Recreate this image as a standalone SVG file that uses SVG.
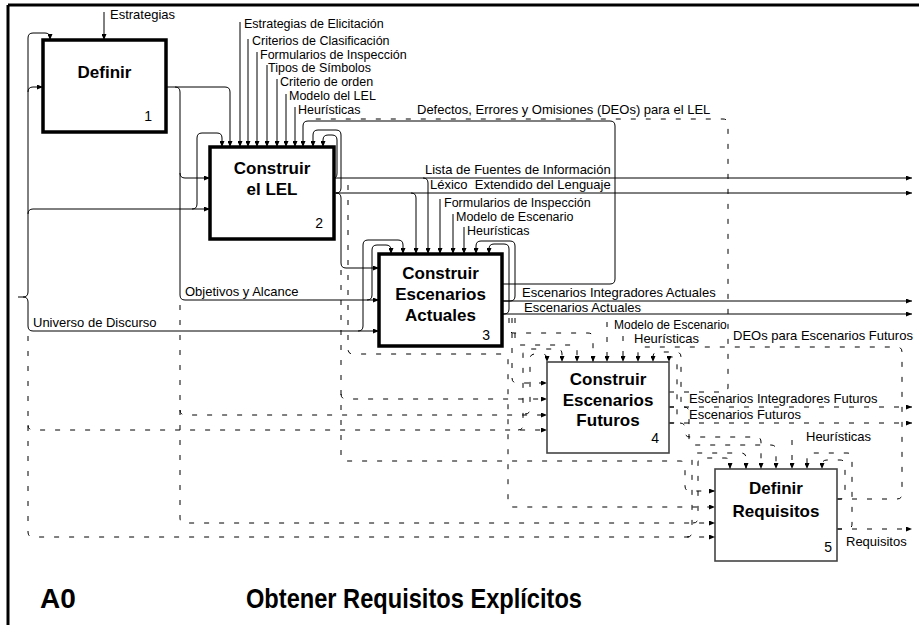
<svg xmlns="http://www.w3.org/2000/svg" width="919" height="625" viewBox="0 0 919 625">
  <defs>
    <marker id="ah" markerWidth="6" markerHeight="5" refX="6" refY="2.5" orient="auto" markerUnits="userSpaceOnUse">
      <path d="M0,0 L6,2.5 L0,5 z" fill="#000"/>
    </marker>
  </defs>
  <style>
    .frame { fill: none; stroke: #000; stroke-width: 3; }
    .box-main { fill: #fff; stroke: #000; stroke-width: 3.5; }
    .box-thin { fill: #fff; stroke: #444; stroke-width: 1.6; }
    .ln { fill: none; stroke: #000; stroke-width: 1; }
    .dash { fill: none; stroke: #000; stroke-width: 1; stroke-dasharray: 5 10; }
    .arr { marker-end: url(#ah); }
    .lbl { font-family: "Liberation Sans", Arial, sans-serif; font-size: 13px; fill: #000; }
    .lbl-t { font-family: "Liberation Sans", Arial, sans-serif; font-size: 12.5px; fill: #000; }
    .lbl-s { font-family: "Liberation Sans", Arial, sans-serif; font-size: 12px; fill: #000; }
    .ttl { font-family: "Liberation Sans", Arial, sans-serif; font-size: 17px; font-weight: bold; fill: #000; text-anchor: middle; }
    .num { font-family: "Liberation Sans", Arial, sans-serif; font-size: 14px; fill: #000; text-anchor: end; }
    .head { font-family: "Liberation Sans", Arial, sans-serif; font-size: 28px; font-weight: bold; fill: #000; }
  </style>

  <rect width="919" height="625" fill="#fff"/>
  <path class="frame" d="M8,5 H919 M8,5 V625"/>

  <!-- connectors -->
  <g id="connectors">
    <!-- solid flows -->
    <path class="ln arr" d="M104,12 V40"/>
    <path class="ln arr" d="M18,297 H23 Q28,297 28,292 V38 Q28,33 33,33 H45 Q50,33 50,38 V40"/>
    <path class="ln arr" d="M23,297 Q28,297 28,302 V326 Q28,331 33,331 H379"/>
    <path class="ln arr" d="M28,92 Q28,87 33,87 H43"/>
    <path class="ln arr" d="M28,214 Q28,209 33,209 H210"/>
    <path class="ln arr" d="M192,209 Q197,209 197,204 V138 Q197,133 202,133 H217 Q222,133 222,138 V147"/>

    <path class="ln arr" d="M166,87 H175 Q180,87 180,92 V295 Q180,300 185,300 H379"/>
    <path class="ln arr" d="M180,173 Q180,178 185,178 H210"/>
    <path class="ln arr" d="M175,87 H225 Q230,87 230,92 V147"/>

    <path class="ln arr" d="M240,22 V147"/>
    <path class="ln arr" d="M248,39 V147"/>
    <path class="ln arr" d="M257,52 V147"/>
    <path class="ln arr" d="M267,65 V147"/>
    <path class="ln arr" d="M277,79 V147"/>
    <path class="ln arr" d="M286,94 V147"/>
    <path class="ln arr" d="M295,107 V147"/>

    <path class="ln arr" d="M502,284 H610 Q615,284 615,279 V126 Q615,121 610,121 H308 Q303,121 303,126 V147"/>

    <path class="ln arr" d="M334,178 H912"/>
    <path class="ln arr" d="M334,178 Q337,178 337,173 V140 Q337,135 332,135 H328 Q323,135 323,140 V147"/>
    <path class="ln arr" d="M334,193 H912"/>
    <path class="ln arr" d="M336,193 Q341,193 341,188 V135 Q341,130 336,130 H318 Q313,130 313,135 V147"/>
    <path class="ln arr" d="M336,193 Q341,193 341,198 V263 Q341,268 346,268 H379"/>
    <path class="ln arr" d="M411,193 Q416,193 416,198 V254"/>
    <path class="ln arr" d="M423,178 Q428,178 428,183 V254"/>

    <path class="ln arr" d="M440,199 V254"/>
    <path class="ln arr" d="M453,214 V254"/>
    <path class="ln arr" d="M464,227 V254"/>

    <path class="ln arr" d="M367,300 Q372,300 372,295 V250 Q372,245 377,245 H386 Q391,245 391,250 V254"/>
    <path class="ln arr" d="M358,331 Q363,331 363,326 V245 Q363,240 368,240 H398 Q403,240 403,245 V254"/>

    <path class="ln arr" d="M502,301 H912"/>
    <path class="ln arr" d="M502,314 H912"/>
    <path class="ln arr" d="M502,301 H510 Q515,301 515,296 V246 Q515,241 510,241 H481 Q476,241 476,246 V254"/>
    <path class="ln arr" d="M502,314 H504 Q509,314 509,309 V249 Q509,244 504,244 H494 Q489,244 489,249 V254"/>

    <!-- dashed flows -->
    <path class="dash arr" d="M28,336 V532 Q28,537 33,537 H715"/>
    <path class="dash arr" d="M28,425 Q28,430 33,430 H547"/>
    <path class="dash arr" d="M180,305 V518 Q180,523 185,523 H715"/>
    <path class="dash arr" d="M180,410 Q180,415 185,415 H547"/>
    <path class="dash arr" d="M341,270 V456 Q341,461 346,461 H680 Q685,461 685,466 V486 Q685,491 690,491 H715"/>
    <path class="dash arr" d="M341,394 Q341,399 346,399 H547"/>
    <path class="dash arr" d="M348,185 V349 Q348,354 353,354 H503 Q508,354 508,359 V502 Q508,507 513,507 H715"/>
    <path class="dash arr" d="M512,318 V378 Q512,383 517,383 H547"/>

    <path class="dash arr" d="M525,414 Q530,414 530,409 V359 Q530,354 535,354 H542 Q547,354 547,359 V362"/>
    <path class="dash arr" d="M518,430 Q523,430 523,425 V354 Q523,349 528,349 H557 Q562,349 562,354 V362"/>
    <path class="dash arr" d="M509,318 V328 Q509,333 514,333 H588 Q593,333 593,338 V362"/>
    <path class="dash arr" d="M515,318 V340 Q515,345 520,345 H572 Q577,345 577,350 V362"/>
    <path class="dash arr" d="M607,322 V362"/>
    <path class="dash arr" d="M623,336 V362"/>
    <path class="dash arr" d="M837,499 H897 Q902,499 902,494 V352 Q902,347 897,347 H643 Q638,347 638,352 V362"/>
    <path class="dash arr" d="M669,407 H676 Q681,407 681,402 V357 Q681,352 676,352 H658 Q653,352 653,357 V362"/>
    <path class="dash arr" d="M669,423 H673 Q677,423 677,419 V361 Q677,357 673,357 H669 V362"/>

    <path class="dash" d="M669,392 H723 Q728,392 728,387 V124 Q728,119 723,119 H308"/>
    <path class="dash arr" d="M669,407 H912"/>
    <path class="dash arr" d="M669,423 H912"/>

    <path class="dash arr" d="M693,523 Q698,523 698,518 V463 Q698,458 703,458 H725 Q730,458 730,463 V469"/>
    <path class="dash arr" d="M687,537 Q692,537 692,532 V458 Q692,453 697,453 H741 Q746,453 746,458 V469"/>
    <path class="dash arr" d="M680,423 Q685,423 685,428 V432 Q685,437 690,437 H756 Q761,437 761,442 V469"/>
    <path class="dash arr" d="M684,407 Q689,407 689,412 V440 Q689,445 694,445 H771 Q776,445 776,450 V469"/>
    <path class="dash arr" d="M792,440 V469"/>
    <path class="dash arr" d="M837,529 H847 Q852,529 852,524 V458 Q852,453 847,453 H812 Q807,453 807,458 V469"/>
    <path class="dash arr" d="M837,499 H840 Q845,499 845,494 V465 Q845,460 840,460 H827 Q822,460 822,465 V469"/>
    <path class="dash arr" d="M837,529 H912"/>
  </g>

  <!-- connector labels -->
  <g id="labels">
    <text class="lbl" x="110" y="19">Estrategias</text>
    <text class="lbl-t" x="244" y="28">Estrategias de Elicitación</text>
    <text class="lbl-t" x="252" y="45">Criterios de Clasificación</text>
    <text class="lbl-t" x="260" y="59">Formularios de Inspección</text>
    <text class="lbl-t" x="268" y="72">Tipos de Símbolos</text>
    <text class="lbl-t" x="280" y="86">Criterio de orden</text>
    <text class="lbl-t" x="289" y="100">Modelo del LEL</text>
    <text class="lbl-t" x="298" y="114">Heurísticas</text>
    <text class="lbl" x="417" y="114">Defectos, Errores y Omisiones (DEOs) para el LEL</text>
    <text class="lbl" x="425" y="174">Lista de Fuentes de Información</text>
    <text class="lbl" x="430" y="189" xml:space="preserve">Léxico  Extendido del Lenguaje</text>
    <text class="lbl-t" x="444" y="207">Formularios de Inspección</text>
    <text class="lbl-t" x="456" y="221">Modelo de Escenario</text>
    <text class="lbl-t" x="467" y="235">Heurísticas</text>
    <text class="lbl" x="185" y="296">Objetivos y Alcance</text>
    <text class="lbl" x="33" y="327">Universo de Discurso</text>
    <text class="lbl" x="522" y="297">Escenarios Integradores Actuales</text>
    <text class="lbl" x="524" y="312">Escenarios Actuales</text>
    <text class="lbl-s" x="614" y="329">Modelo de Escenario</text>
    <text class="lbl" x="634" y="343">Heurísticas</text>
    <text class="lbl" x="733" y="340">DEOs para Escenarios Futuros</text>
    <text class="lbl" x="689" y="403">Escenarios Integradores Futuros</text>
    <text class="lbl" x="689" y="419">Escenarios Futuros</text>
    <text class="lbl" x="806" y="441">Heurísticas</text>
    <text class="lbl" x="846" y="546">Requisitos</text>
  </g>

  <!-- activity boxes -->
  <g id="node-1">
    <rect class="box-main" x="43" y="40" width="123" height="92"/>
    <text class="ttl" x="104.5" y="78">Definir</text>
    <text class="num" x="152" y="121">1</text>
  </g>
  <g id="node-2">
    <rect class="box-main" x="210" y="147" width="124" height="92"/>
    <text class="ttl" x="272" y="174">Construir</text>
    <text class="ttl" x="272" y="195">el LEL</text>
    <text class="num" x="323" y="228">2</text>
  </g>
  <g id="node-3">
    <rect class="box-main" x="379" y="254" width="123" height="92"/>
    <text class="ttl" x="440.5" y="279">Construir</text>
    <text class="ttl" x="440.5" y="300">Escenarios</text>
    <text class="ttl" x="440.5" y="321">Actuales</text>
    <text class="num" x="490" y="340">3</text>
  </g>
  <g id="node-4">
    <rect class="box-thin" x="547" y="362" width="122" height="91"/>
    <text class="ttl" x="608" y="385">Construir</text>
    <text class="ttl" x="608" y="406">Escenarios</text>
    <text class="ttl" x="608" y="426">Futuros</text>
    <text class="num" x="659" y="443">4</text>
  </g>
  <g id="node-5">
    <rect class="box-thin" x="715" y="469" width="122" height="92"/>
    <text class="ttl" x="776" y="494">Definir</text>
    <text class="ttl" x="776" y="517">Requisitos</text>
    <text class="num" x="832" y="552">5</text>
  </g>

  <!-- diagram heading -->
  <g id="heading">
    <text class="head" x="40" y="608">A0</text>
    <text class="head" x="246" y="608" textLength="336" lengthAdjust="spacingAndGlyphs">Obtener Requisitos Explícitos</text>
  </g>
</svg>
